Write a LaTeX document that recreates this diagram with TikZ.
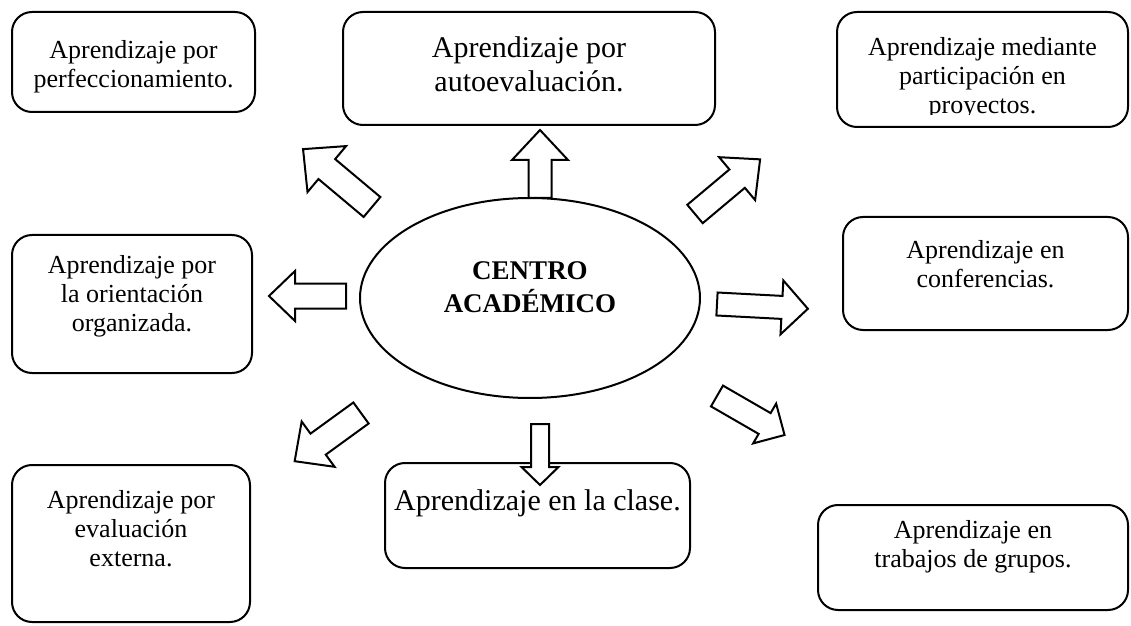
\documentclass[tikz,border=0pt]{standalone}
\usepackage{fontspec}
\setmainfont{Liberation Serif}
\usetikzlibrary{shapes.geometric,fit}

\tikzset{
  caja/.style={draw, line width=1pt, rounded corners=10pt, inner sep=0pt},
  texto/.style={align=center, inner sep=0pt, anchor=north, font=\fontsize{13}{14.5}\selectfont},
  textogrande/.style={texto, font=\fontsize{15}{17}\selectfont},
  flecha/.style={draw, line width=1pt, line join=miter, fill=white}
}

\begin{document}
\begin{tikzpicture}[x=0.5pt, y=-0.5pt]
\useasboundingbox (0,0) rectangle (1131,626);

% recuadros
\node[caja, fit={(12,12)(255,112)}] (perf) {};
\node[caja, fit={(343,12)(715,125)}] (auto) {};
\node[caja, fit={(837,12)(1128,127)}] (proy) {};
\node[caja, fit={(12,235)(252,373)}] (orient) {};
\node[caja, fit={(843,217)(1128,330)}] (conf) {};
\node[caja, fit={(12,465)(250,622)}] (ext) {};
\node[caja, fit={(385,463)(690,568)}] (clase) {};
\node[caja, fit={(818,505)(1128,610)}] (grup) {};

% textos
\node[texto] (perf-t) at (perf.north |- 0,40) {Aprendizaje por\\perfeccionamiento.};
\node[textogrande] (auto-t) at (auto.north |- 0,36) {Aprendizaje por\\autoevaluación.};
\begin{scope}
  \clip (837,12) rectangle (1128,115);
  \node[texto] (proy-t) at (proy.north |- 0,37) {Aprendizaje mediante\\participación en\\proyectos.};
\end{scope}
\node[texto] (orient-t) at (orient.north |- 0,255) {Aprendizaje por\\la orientación\\organizada.};
\node[texto] (conf-t) at (conf.north |- 0,240) {Aprendizaje en\\conferencias.};
\node[texto] (ext-t) at (ext.north |- 0,490) {Aprendizaje por\\evaluación\\externa.};
\node[textogrande] (clase-t) at (clase.north |- 0,489) {Aprendizaje en la clase.};
\node[texto] (grup-t) at (grup.north |- 0,520) {Aprendizaje en\\trabajos de grupos.};

% centro
\node[draw, line width=1pt, ellipse, minimum width=170pt, minimum height=100pt, inner sep=0pt] (centro) at (530,298) {};
\node[texto, font=\bfseries\fontsize{13.5}{16.5}\selectfont] (centro-t) at (530,261) {CENTRO\\ACADÉMICO};

% flechas: cola x/ cola y/ angulo/ largo/ medio ancho/ punta/ largo punta
\foreach \x/\y/\a/\l/\w/\h/\k in {540/198/90/68/11.5/28/30, 372/207/140/90/13/30/31,
    695/214/40/85/12/28/30, 346/296/180/77/12.5/25/26, 717/304/-3/91/11.5/27/26,
    717/396/-30/78/12/23/23, 361/413/216/82/13/28/29, 540/424/-90/61/9/18.5/18}
  \draw[flecha, shift={(\x,\y)}, rotate=\a] (0,\w) -- ({\l-\k},\w) -- ({\l-\k},\h) -- (\l,0)
    -- ({\l-\k},-\h) -- ({\l-\k},-\w) -- (0,-\w) -- cycle;

\end{tikzpicture}
\end{document}
